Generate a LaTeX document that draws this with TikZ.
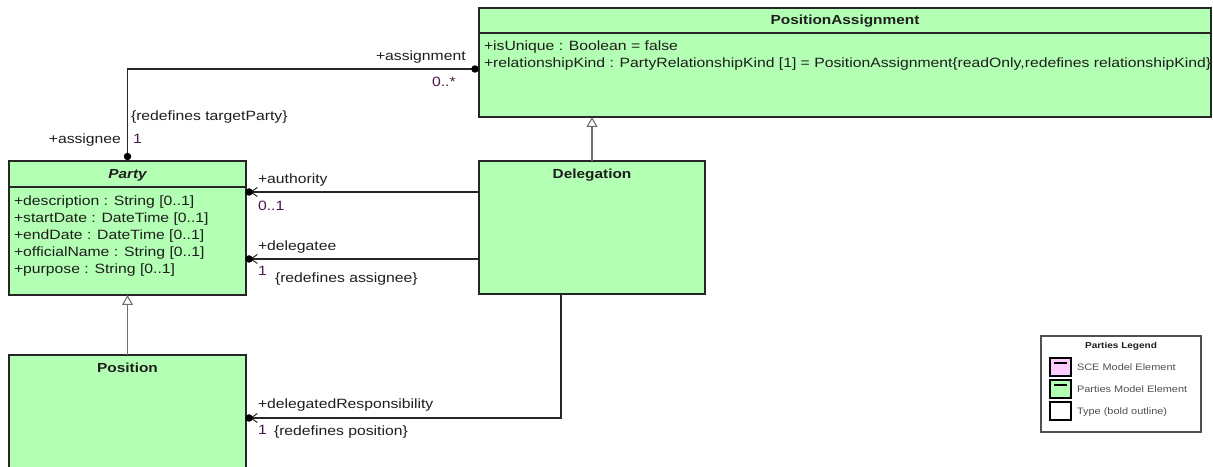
\documentclass[tikz,border=0pt]{standalone}
\usepackage{fontspec}
\setmainfont[FakeStretch=1.17]{Liberation Sans}
\usetikzlibrary{arrows.meta}
\definecolor{classgreen}{HTML}{B3FFB3}
\definecolor{scepink}{HTML}{FFCCFF}
\definecolor{gencol}{HTML}{6E6E6E}
\definecolor{multcol}{HTML}{4A1A4A}
\definecolor{labelcol}{HTML}{1E1E1E}
\definecolor{legendtext}{HTML}{505050}

\begin{document}
\begin{tikzpicture}[x=1bp,y=-1bp,
  every node/.style={inner sep=0pt, outer sep=0pt},
  classbox/.style={draw=black!85, line width=1.15bp, fill=classgreen, rectangle, anchor=north west},
  classname/.style={font=\fontsize{13.2}{15}\selectfont\bfseries, anchor=base, text=labelcol},
  member/.style={font=\fontsize{13.5}{15}\selectfont, anchor=base west, text=labelcol},
  rolelabel/.style={font=\fontsize{13.5}{15}\selectfont, anchor=base west, text=labelcol},
  multlabel/.style={font=\fontsize{13.5}{15}\selectfont, anchor=base west, text=multcol},
  assoc/.style={draw=black!85, line width=1.15bp},
  navend/.style={-{Straight Barb[length=6.5bp,width=9bp,line width=1bp]}, shorten >=4bp},
  owndot/.style={fill=black, circle, minimum size=7.5bp},
  gen/.style={draw=gencol, line width=1.3bp, -{Triangle[open, length=10bp, width=11bp, line width=1.1bp, fill=white]}},
  swatch/.style={draw=black, line width=1.1bp, rectangle, anchor=north west, minimum width=21bp, minimum height=18bp},
  legendlabel/.style={font=\fontsize{9.4}{10}\selectfont, anchor=base west, text=legendtext},
]
\useasboundingbox (0,0) rectangle (1213,467);

% ---- classes ----
\node[classbox, minimum width=732bp, minimum height=109bp] (pa) at (479,8) {};
\draw[line width=1.15bp, black!85] (479,33) -- (1211,33);
\node[classname] (paname) at (845,24.5) {PositionAssignment};
\node[member] (paattr1) at (484,50.5) {+isUnique : Boolean = false};
\node[member] (paattr2) at (484,67.5) {+relationshipKind : PartyRelationshipKind [1] = PositionAssignment\{readOnly,redefines relationshipKind\}};

\node[classbox, minimum width=237bp, minimum height=134bp] (party) at (9,161) {};
\draw[line width=1.15bp, black!85] (9,187) -- (246,187);
\node[classname, font=\fontsize{13.2}{15}\selectfont\bfseries\itshape] (partyname) at (127.5,178.5) {Party};
\foreach \t [count=\i from 0] in {+description : String [0..1],
    +startDate : DateTime [0..1],
    +endDate : DateTime [0..1],
    +officialName : String [0..1],
    +purpose : String [0..1]}
  \node[member] (partyattr\i) at (14,{205.5+17*\i}) {\t};

\node[classbox, minimum width=226bp, minimum height=133bp] (delegation) at (479,161) {};
\node[classname] (delegationname) at (592,178.5) {Delegation};

\node[classbox, minimum width=237bp, minimum height=125bp] (position) at (9,355) {};
\node[classname] (positionname) at (127.5,372.5) {Position};

% ---- generalizations ----
\draw[gen] (delegation.north) -- (delegation.north |- pa.south);
\draw[gen] (position.north) -- (party.south);

% ---- PositionAssignment -- Party ----
\coordinate (paend) at (479,69);
\draw[assoc] (party.north) |- (paend);
\node[owndot] (dotassignee) at (127.5,156.5) {};
\node[owndot] (dotassignment) at (475,69) {};
\node[rolelabel] (lassignment) at (376,60.5) {+assignment};
\node[multlabel] (massignment) at (432,86.5) {0..*};
\node[rolelabel] (credtarget) at (131,120.5) {\{redefines targetParty\}};
\node[rolelabel, anchor=base east] (lassignee) at (121,143.5) {+assignee};
\node[multlabel] (massignee) at (133,143.5) {1};

% ---- Delegation -> Party (authority) ----
\coordinate (authD) at (479,192);
\coordinate (authP) at (246,192);
\draw[assoc, navend] (authD) -- (authP);
\node[owndot] (dotauthority) at (249,192) {};
\node[rolelabel] (lauthority) at (258,183.5) {+authority};
\node[multlabel] (mauthority) at (258,210.5) {0..1};

% ---- Delegation -> Party (delegatee) ----
\coordinate (delgD) at (479,259);
\coordinate (delgP) at (246,259);
\draw[assoc, navend] (delgD) -- (delgP);
\node[owndot] (dotdelegatee) at (249,259) {};
\node[rolelabel] (ldelegatee) at (258,250.5) {+delegatee};
\node[multlabel] (mdelegatee) at (258,276) {1};
\node[rolelabel] (cdelegatee) at (275,283) {\{redefines assignee\}};

% ---- Delegation -> Position ----
\coordinate (dlgbottom) at (561,294);
\coordinate (posR) at (246,418);
\draw[assoc, navend] (dlgbottom) |- (posR);
\node[owndot] (dotresp) at (249,418) {};
\node[rolelabel] (lresp) at (258,408.5) {+delegatedResponsibility};
\node[multlabel] (mresp) at (258,435) {1};
\node[rolelabel] (cresp) at (274,436) {\{redefines position\}};

% ---- legend ----
\node[draw=legendtext, line width=1.1bp, fill=white, rectangle, anchor=north west,
      minimum width=160bp, minimum height=96bp] (legend) at (1041,336) {};
\node[font=\fontsize{8.6}{10}\selectfont\bfseries, anchor=base, text=labelcol] (legendtitle) at (1121,349) {Parties Legend};
\node[swatch, fill=scepink] (swsce) at (1050,358) {};
\node[swatch, fill=classgreen] (swparties) at (1050,380) {};
\node[swatch, fill=white] (swtype) at (1050,402) {};
\draw[line width=1.1bp] ([shift={(4,5)}]swsce.north west) -- ([shift={(-4,5)}]swsce.north east);
\draw[line width=1.1bp] ([shift={(4,5)}]swparties.north west) -- ([shift={(-4,5)}]swparties.north east);
\node[legendlabel] (lsce) at (1077,370.5) {SCE Model Element};
\node[legendlabel] (lparties) at (1077,392.5) {Parties Model Element};
\node[legendlabel] (ltype) at (1077,414.5) {Type (bold outline)};
\end{tikzpicture}
\end{document}
